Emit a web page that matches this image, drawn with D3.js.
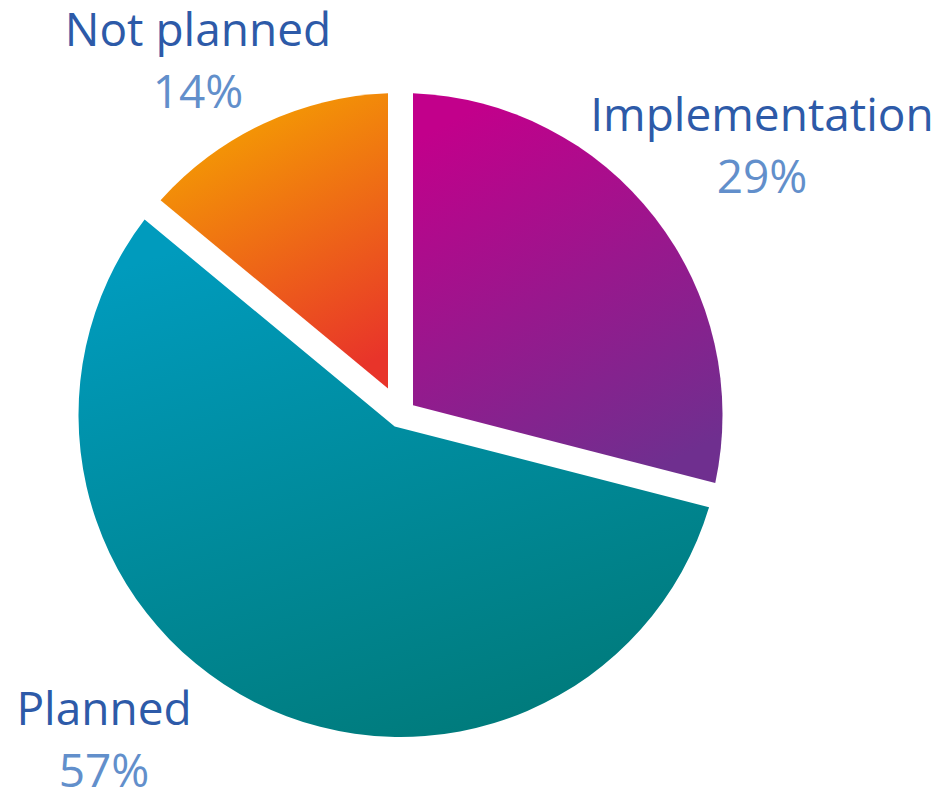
<!DOCTYPE html>
<html lang="en">
<head>
<meta charset="utf-8">
<title>Pie</title>
<script src="https://cdn.jsdelivr.net/npm/d3@7"></script>
<style>
  body { margin: 0; background: #fff; }
  text { font-family: "Open Sans", sans-serif; }
</style>
</head>
<body>
<script>
// data
var categories = ["Implementation", "Planned", "Not planned"];
var values = [29, 57, 14];
var pctLabels = ["29%", "57%", "14%"];

var w = 946, h = 793;
var cx = 400.5, cy = 415;
var radius = 322;
var half = 12.5;   // half of the white gap between slices

// gradient stops per slice (top colour, bottom colour)
var grads = [
  ["#c2008b", "#6f2f8f"],
  ["#009bbd", "#007a7a"],
  ["#f5a300", "#e8342a"]
];

// where each label block sits (centre x, baseline of name)
var labelPos = [
  {x: 762, y: 131},
  {x: 104, y: 725},
  {x: 198, y: 46}
];

var svg = d3.select("body").append("svg")
    .attr("width", w)
    .attr("height", h);

var defs = svg.append("defs");
grads.forEach(function(g, i) {
  var lg = defs.append("linearGradient")
      .attr("id", "g" + i)
      .attr("x1", 0.3).attr("y1", 0)
      .attr("x2", 0.7).attr("y2", 1);
  lg.append("stop").attr("offset", "0%").attr("stop-color", g[0]);
  lg.append("stop").attr("offset", "100%").attr("stop-color", g[1]);
});

var pie = d3.pie().sort(null).value(function(d) { return d; });

// slice with both straight edges pushed inward by `half`, so the gaps
// stay the same width right into the middle
function slicePath(d) {
  var a0 = d.startAngle, a1 = d.endAngle;
  var u0 = [Math.sin(a0), -Math.cos(a0)], u1 = [Math.sin(a1), -Math.cos(a1)];
  var n0 = [Math.cos(a0), Math.sin(a0)], n1 = [-Math.cos(a1), -Math.sin(a1)];
  // corner = where the two offset lines meet
  var det = n0[0] * n1[1] - n0[1] * n1[0];
  var px = half * (n1[1] - n0[1]) / det;
  var py = half * (n0[0] - n1[0]) / det;
  var t = Math.sqrt(radius * radius - half * half);
  var e0 = [half * n0[0] + t * u0[0], half * n0[1] + t * u0[1]];
  var e1 = [half * n1[0] + t * u1[0], half * n1[1] + t * u1[1]];
  var p = d3.path();
  p.moveTo(px, py);
  p.lineTo(e0[0], e0[1]);
  p.arc(0, 0, radius, Math.atan2(e0[1], e0[0]), Math.atan2(e1[1], e1[0]), false);
  p.closePath();
  return p.toString();
}

var g = svg.append("g").attr("transform", "translate(" + cx + "," + cy + ")");

g.selectAll("path")
  .data(pie(values))
  .enter()
  .append("path")
  .attr("d", slicePath)
  .attr("fill", function(d, i) { return "url(#g" + i + ")"; });

var lab = svg.selectAll("g.label")
  .data(categories)
  .enter()
  .append("g")
  .attr("class", "label")
  .attr("transform", function(d, i) {
    return "translate(" + labelPos[i].x + "," + labelPos[i].y + ")";
  });

lab.append("text")
  .attr("text-anchor", "middle")
  .attr("font-size", "46px")
  .attr("fill", "#2d5aa8")
  .text(function(d) { return d; });

lab.append("text")
  .attr("text-anchor", "middle")
  .attr("y", 62)
  .attr("font-size", "46px")
  .attr("fill", "#628fcb")
  .text(function(d, i) { return pctLabels[i]; });
</script>
</body>
</html>
